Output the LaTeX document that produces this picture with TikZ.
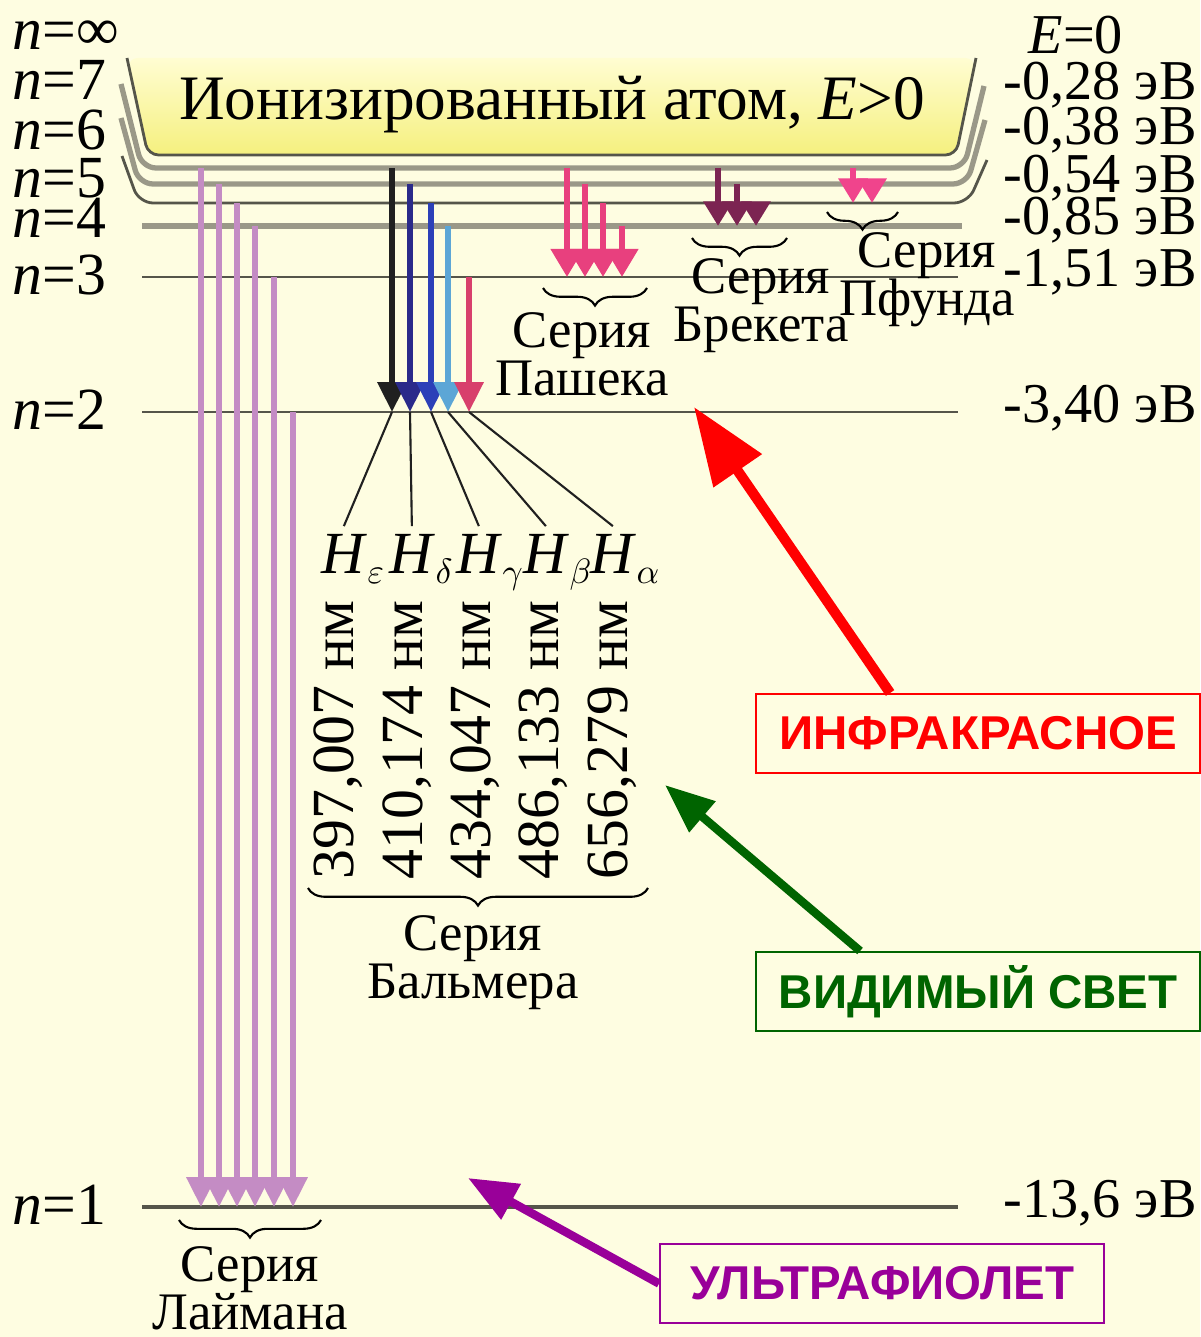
\documentclass[tikz,border=0pt]{standalone}
\usepackage{fontspec}
\setmainfont{Liberation Serif}
\newfontfamily\boxfont{Liberation Sans}
\usetikzlibrary{arrows.meta,decorations.pathreplacing}

\definecolor{cream}{HTML}{FEFDE1}
\definecolor{bandtop}{HTML}{FFFDD2}
\definecolor{bandbot}{HTML}{F5F07E}
\definecolor{lvdark}{HTML}{55554A}
\definecolor{lvgray}{HTML}{9A9888}
\definecolor{lymancol}{HTML}{C48CC4}
\definecolor{hblack}{HTML}{202020}
\definecolor{hdark}{HTML}{2A2A8A}
\definecolor{hblue}{HTML}{2C40B8}
\definecolor{hlight}{HTML}{5CA6D6}
\definecolor{hred}{HTML}{D8406C}
\definecolor{paschcol}{HTML}{E8407E}
\definecolor{brackcol}{HTML}{7C2452}
\definecolor{pfundcol}{HTML}{F0448C}
\definecolor{irred}{HTML}{FF0000}
\definecolor{visgreen}{HTML}{006400}
\definecolor{uvpurple}{HTML}{990099}

% level heights (px, y down)
\def\yinf{155}\def\ysev{168}\def\ysix{184}\def\yfive{203}
\def\yfour{226}\def\ythree{277}\def\ytwo{412}\def\yone{1207}
% Balmer line name: H with a small greek index
\newcommand{\hbalmer}[1]{\textit{H}\raisebox{-0.18em}{\fontsize{10}{10}\selectfont$#1$}}

\begin{document}
\begin{tikzpicture}[x=0.01cm,y=-0.01cm,
  lvl/.style={draw=lvdark,line width=0.8pt},
  lvlgray/.style={draw=lvgray,line width=1.5pt},
  nlab/.style={anchor=west,inner sep=0pt,font=\fontsize{17}{17}\selectfont},
  elab/.style={anchor=west,inner sep=0pt,font=\fontsize{16}{16}\selectfont},
  serlab/.style={align=center,inner sep=0pt,font=\fontsize{15}{13.7}\selectfont},
  lamlab/.style={rotate=90,inner sep=0pt,font=\fontsize{17}{17}\selectfont},
  hlab/.style={anchor=base west,inner sep=0pt,font=\fontsize{17}{17}\selectfont},
  trans/.style={line width=1.7pt,-{Triangle[length=8.5pt,width=8pt]}},
  fan/.style={draw=hblack,line width=0.6pt},
  ser/.style={draw=black,line width=0.6pt,decorate,decoration={brace,amplitude=5pt,mirror}},
  spec/.style={draw,line width=0.6pt,inner sep=0pt,minimum width=4.44cm,minimum height=0.79cm,
    font=\fontsize{13.5}{13.5}\selectfont\boxfont\bfseries},
  pointer/.style={line width=2.4pt}]

\useasboundingbox[fill=cream] (0,0) rectangle (1200,1337);

% ionised band
\shade[top color=bandtop,bottom color=bandbot,rounded corners=3pt]
  (127,58) -- (148,\yinf) -- (956,\yinf) -- (976,58) -- cycle;
\node[font=\fontsize{18}{18}\selectfont] (ion) at (552,105) {Ионизированный атом, \textit{E}>0};

% levels
\draw[lvl,rounded corners=3pt] (127,58) -- (148,\yinf) -- (956,\yinf) -- (976,58);
\draw[lvlgray,rounded corners=4pt] (121,84) -- (142,\ysev) -- (964,\ysev) -- (984,86);
\draw[lvlgray,rounded corners=4pt] (121,118) -- (139,\ysix) -- (967,\ysix) -- (985,120);
\draw[lvl,rounded corners=4pt] (122,156) -- (139,\yfive) -- (968,\yfive) -- (987,160);
\draw[lvlgray,line width=1.8pt] (142,\yfour) -- (962,\yfour);
\draw[lvl] (142,\ythree) -- (958,\ythree);
\draw[lvl] (142,\ytwo) -- (958,\ytwo);
\draw[lvl,line width=1pt] (142,\yone) -- (958,\yone);

% level names
\node[nlab] (ninf) at (12,35) {\textit{n}=∞};
\node[nlab] (nsev) at (12,80) {\textit{n}=7};
\node[nlab] (nsix) at (12,130) {\textit{n}=6};
\node[nlab] (nfive) at (12,178) {\textit{n}=5};
\node[nlab] (nfour) at (12,218) {\textit{n}=4};
\node[nlab] (nthree) at (12,275) {\textit{n}=3};
\node[nlab] (ntwo) at (12,410) {\textit{n}=2};
\node[nlab] (none) at (12,1205) {\textit{n}=1};

% energies
\node[elab] (ezero) at (1028,35) {\textit{E}=0};
\node[elab] (esev) at (1003,85) {-0,28 эВ};
\node[elab] (esix) at (1003,130) {-0,38 эВ};
\node[elab] (efive) at (1003,178) {-0,54 эВ};
\node[elab] (efour) at (1003,220) {-0,85 эВ};
\node[elab] (ethree) at (1003,272) {-1,51 эВ};
\node[elab] (etwo) at (1003,408) {-3,40 эВ};
\node[elab] (eone) at (1003,1203) {-13,6 эВ};

% Lyman
\foreach \x/\y in {201/\ysev,219/\ysix,237/\yfive,255/\yfour,274/\ythree,293/\ytwo}
  \draw[trans,lymancol] (\x,\y) coordinate (ly\x) -- (\x,\yone);

% Balmer
\foreach \x/\y/\c/\n in {392/\ysev/hblack/1,410/\ysix/hdark/2,431/\yfive/hblue/3,448/\yfour/hlight/4,469/\ythree/hred/5}
  \draw[trans,\c] (\x,\y) -- (\x,\ytwo) coordinate (bm\n);

% Paschen, Brackett, Pfund
\foreach \x/\y in {567/\ysev,585/\ysix,603/\yfive,622/\yfour}
  \draw[trans,paschcol,-{Triangle[length=8pt,width=9pt]}] (\x,\y) -- (\x,\ythree);
\foreach \x/\y in {718/\ysev,737/\ysix,756/\yfive}
  \draw[trans,brackcol,-{Triangle[length=7pt,width=8pt]}] (\x,\y) -- (\x,\yfour);
\foreach \x/\y in {853/\ysev,872/\ysix}
  \draw[trans,pfundcol,-{Triangle[length=7pt,width=8pt]}] (\x,\y) -- (\x,\yfive);

% Balmer line names
\node[hlab] (hz) at (321,573) {\hbalmer{\varepsilon}};
\node[hlab] (hd) at (389,573) {\hbalmer{\delta}};
\node[hlab] (hg) at (456,573) {\hbalmer{\gamma}};
\node[hlab] (hb) at (523,573) {\hbalmer{\beta}};
\node[hlab] (ha) at (590,573) {\hbalmer{\alpha}};
\draw[fan] (bm1) -- ([xshift=6.5pt,yshift=2pt]hz.north west);
\draw[fan] (bm2) -- ([xshift=6.5pt,yshift=2pt]hd.north west);
\draw[fan] (bm3) -- ([xshift=6.5pt,yshift=2pt]hg.north west);
\draw[fan] (bm4) -- ([xshift=6.5pt,yshift=2pt]hb.north west);
\draw[fan] (bm5) -- ([xshift=6.5pt,yshift=2pt]ha.north west);

% wavelengths
\node[lamlab] (lz) at (338,740) {397,007 нм};
\node[lamlab] (ld) at (407,740) {410,174 нм};
\node[lamlab] (lg) at (475,740) {434,047 нм};
\node[lamlab] (lb) at (543,740) {486,133 нм};
\node[lamlab] (la) at (612,740) {656,279 нм};

% series
\draw[ser] (308,888) -- (648,888);
\node[serlab] (balmer) at (473,963) {Серия\\Бальмера};
\draw[ser] (179,1220) -- (321,1220);
\node[serlab] (lyman) at (250,1288) {Серия\\Лаймана};
\draw[ser] (543,288) -- (647,288);
\node[serlab] (paschen) at (582,354) {Серия\\Пашека};
\draw[ser] (692,238) -- (787,238);
\node[serlab] (brackett) at (761,306) {Серия\\Брекета};
\draw[ser] (827,212) -- (898,212);
\node[serlab] (pfund) at (927,280) {Серия\\Пфунда};

% spectral ranges
\node[spec,draw=irred,text=irred,anchor=north west] (irbox) at (755,693) {ИНФРАКРАСНОЕ};
\node[spec,draw=visgreen,text=visgreen,anchor=north west] (visbox) at (755,951) {ВИДИМЫЙ СВЕТ};
\node[spec,draw=uvpurple,text=uvpurple,anchor=north west] (uvbox) at (659,1243) {УЛЬТРАФИОЛЕТ};
\coordinate (irtip) at (694,407);
\coordinate (vistip) at (665,785);
\coordinate (uvtip) at (468,1178);
\draw[pointer,irred,line width=2.9pt,-{Triangle[length=22pt,width=16pt]}] ([xshift=1.35cm]irbox.north west) -- (irtip);
\draw[pointer,visgreen,-{Triangle[length=14pt,width=11pt]}] ([xshift=1.05cm]visbox.north west) -- (vistip);
\draw[pointer,uvpurple,-{Triangle[length=14pt,width=11pt]}] (uvbox.west) -- (uvtip);
\end{tikzpicture}
\end{document}
